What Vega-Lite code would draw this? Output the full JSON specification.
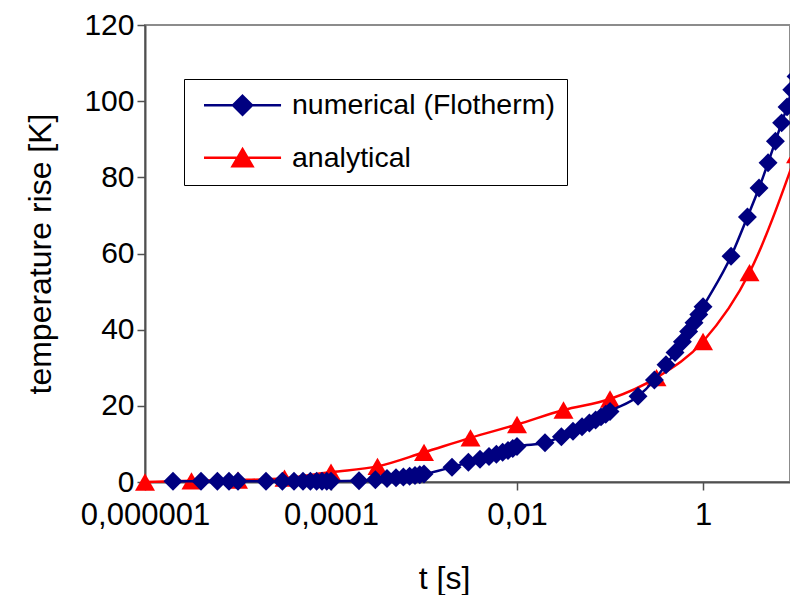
{
  "$schema": "https://vega.github.io/schema/vega-lite/v6.json",
  "width": 645,
  "height": 457,
  "autosize": {"type": "none"},
  "padding": {"left": 145, "top": 25, "right": 0, "bottom": 113},
  "background": "white",
  "config": {
    "view": {"stroke": "#8c8c8c", "strokeWidth": 2},
    "font": "Liberation Sans",
    "axis": {
      "domainColor": "#505050",
      "domainWidth": 2,
      "tickColor": "#505050",
      "tickWidth": 1.5,
      "tickSize": 8,
      "grid": false,
      "labelFont": "Liberation Sans",
      "labelFontSize": 31,
      "labelColor": "black",
      "titleFont": "Liberation Sans",
      "titleFontSize": 32,
      "titleFontWeight": "normal",
      "titleColor": "black"
    }
  },
  "datasets": {
    "numerical": [
      {"t": 0.000002, "rise": 0.2}, {"t": 0.000004, "rise": 0.2}, {"t": 0.000006, "rise": 0.2},
      {"t": 0.000008, "rise": 0.2}, {"t": 0.00001, "rise": 0.2}, {"t": 0.00002, "rise": 0.2},
      {"t": 0.00003, "rise": 0.2}, {"t": 0.00004, "rise": 0.2}, {"t": 0.00005, "rise": 0.2},
      {"t": 0.00006, "rise": 0.2}, {"t": 0.00007, "rise": 0.2}, {"t": 0.00008, "rise": 0.2},
      {"t": 0.00009, "rise": 0.2}, {"t": 0.0001, "rise": 0.2}, {"t": 0.0002, "rise": 0.3},
      {"t": 0.0003, "rise": 0.6}, {"t": 0.0004, "rise": 0.9}, {"t": 0.0005, "rise": 1.1},
      {"t": 0.0006, "rise": 1.3}, {"t": 0.0007, "rise": 1.5}, {"t": 0.0008, "rise": 1.7},
      {"t": 0.0009, "rise": 1.9}, {"t": 0.001, "rise": 2.1}, {"t": 0.002, "rise": 3.9},
      {"t": 0.003, "rise": 5.2}, {"t": 0.004, "rise": 6.0}, {"t": 0.005, "rise": 6.7},
      {"t": 0.006, "rise": 7.3}, {"t": 0.007, "rise": 7.8}, {"t": 0.008, "rise": 8.3},
      {"t": 0.009, "rise": 8.8}, {"t": 0.01, "rise": 9.3}, {"t": 0.02, "rise": 10.3},
      {"t": 0.03, "rise": 11.9}, {"t": 0.04, "rise": 13.3}, {"t": 0.05, "rise": 14.5},
      {"t": 0.06, "rise": 15.5}, {"t": 0.07, "rise": 16.3}, {"t": 0.08, "rise": 17.1},
      {"t": 0.09, "rise": 17.8}, {"t": 0.1, "rise": 18.5}, {"t": 0.2, "rise": 22.5},
      {"t": 0.3, "rise": 26.8}, {"t": 0.4, "rise": 30.8}, {"t": 0.5, "rise": 34.0},
      {"t": 0.6, "rise": 36.8}, {"t": 0.7, "rise": 39.5}, {"t": 0.8, "rise": 41.8},
      {"t": 0.9, "rise": 44.0}, {"t": 1, "rise": 46.0}, {"t": 2, "rise": 59.3},
      {"t": 3, "rise": 69.6}, {"t": 4, "rise": 77.2}, {"t": 5, "rise": 83.8},
      {"t": 6, "rise": 89.5}, {"t": 7, "rise": 94.3}, {"t": 8, "rise": 98.5},
      {"t": 9, "rise": 103.0}, {"t": 10, "rise": 106.5}
    ],
    "analytical": [
      {"t": 0.000001, "rise": 0}, {"t": 0.00000316, "rise": 0.3}, {"t": 0.00001, "rise": 0.5},
      {"t": 0.0000316, "rise": 1.0}, {"t": 0.0001, "rise": 2.6}, {"t": 0.000316, "rise": 4.1},
      {"t": 0.001, "rise": 7.8}, {"t": 0.00316, "rise": 11.6}, {"t": 0.01, "rise": 15.1},
      {"t": 0.0316, "rise": 18.9}, {"t": 0.1, "rise": 21.8}, {"t": 0.316, "rise": 27.4},
      {"t": 1, "rise": 36.9}, {"t": 3.16, "rise": 55.0}, {"t": 10, "rise": 86.0}
    ]
  },
  "encoding": {
    "x": {
      "field": "t",
      "type": "quantitative",
      "scale": {"type": "log", "domain": [0.000001, 8.61], "nice": false},
      "axis": {
        "title": "t [s]",
        "values": [0.000001, 0.0001, 0.01, 1],
        "labelExpr": "replace(format(datum.value, '.6~f'), '.', ',')",
        "labelPadding": 10,
        "labelFlush": false,
        "labelOverlap": false,
        "titleX": 299,
        "titleY": 96,
        "titleBaseline": "middle"
      }
    },
    "y": {
      "field": "rise",
      "type": "quantitative",
      "scale": {"domain": [0, 120], "nice": false},
      "axis": {
        "title": "temperature rise [K]",
        "values": [0, 20, 40, 60, 80, 100, 120],
        "labelPadding": 3,
        "labelFontSize": 30,
        "titleX": -105,
        "titleBaseline": "middle"
      }
    },
    "color": {
      "field": "series",
      "type": "nominal",
      "scale": {"domain": ["numerical (Flotherm)", "analytical"], "range": ["#000080", "#ff0000"]},
      "legend": {
        "orient": "none",
        "legendX": 39,
        "legendY": 54,
        "title": null,
        "fillColor": "white",
        "strokeColor": "black",
        "padding": 12,
        "labelFont": "Liberation Sans",
        "labelFontSize": 28.5,
        "labelColor": "black",
        "labelLimit": 0,
        "labelOffset": 67.5,
        "rowPadding": 23.5,
        "symbolSize": 576,
        "symbolStrokeWidth": 2.5,
        "encode": {
          "symbols": {
            "update": {
              "shape": {"signal": "datum.value === 'analytical' ? 'M-0.52,0L5.9,0M2.69,-0.71L3.52,0.71L1.86,0.71Z' : 'M-0.52,0L5.9,0M2.69,-0.79L3.48,0L2.69,0.79L1.9,0Z'"},
              "size": {"value": 576},
              "fill": {"scale": "color", "field": "value"},
              "stroke": {"scale": "color", "field": "value"},
              "strokeWidth": {"value": 2.5},
              "opacity": {"value": 1}
            }
          }
        }
      }
    }
  },
  "layer": [
    {
      "data": {"name": "analytical"},
      "transform": [{"calculate": "'analytical'", "as": "series"}],
      "layer": [
        {"mark": {"type": "line", "interpolate": "monotone", "strokeWidth": 2.5, "clip": false}, "encoding": {}},
        {"mark": {"type": "point", "shape": "triangle-up", "filled": true, "opacity": 1, "size": 400, "clip": false}, "encoding": {}}
      ]
    },
    {
      "data": {"name": "numerical"},
      "transform": [{"calculate": "'numerical (Flotherm)'", "as": "series"}],
      "layer": [
        {"mark": {"type": "line", "interpolate": "monotone", "strokeWidth": 2.5, "clip": false}, "encoding": {}},
        {"mark": {"type": "point", "shape": "diamond", "filled": true, "opacity": 1, "size": 360, "clip": false}, "encoding": {}}
      ]
    }
  ]
}
